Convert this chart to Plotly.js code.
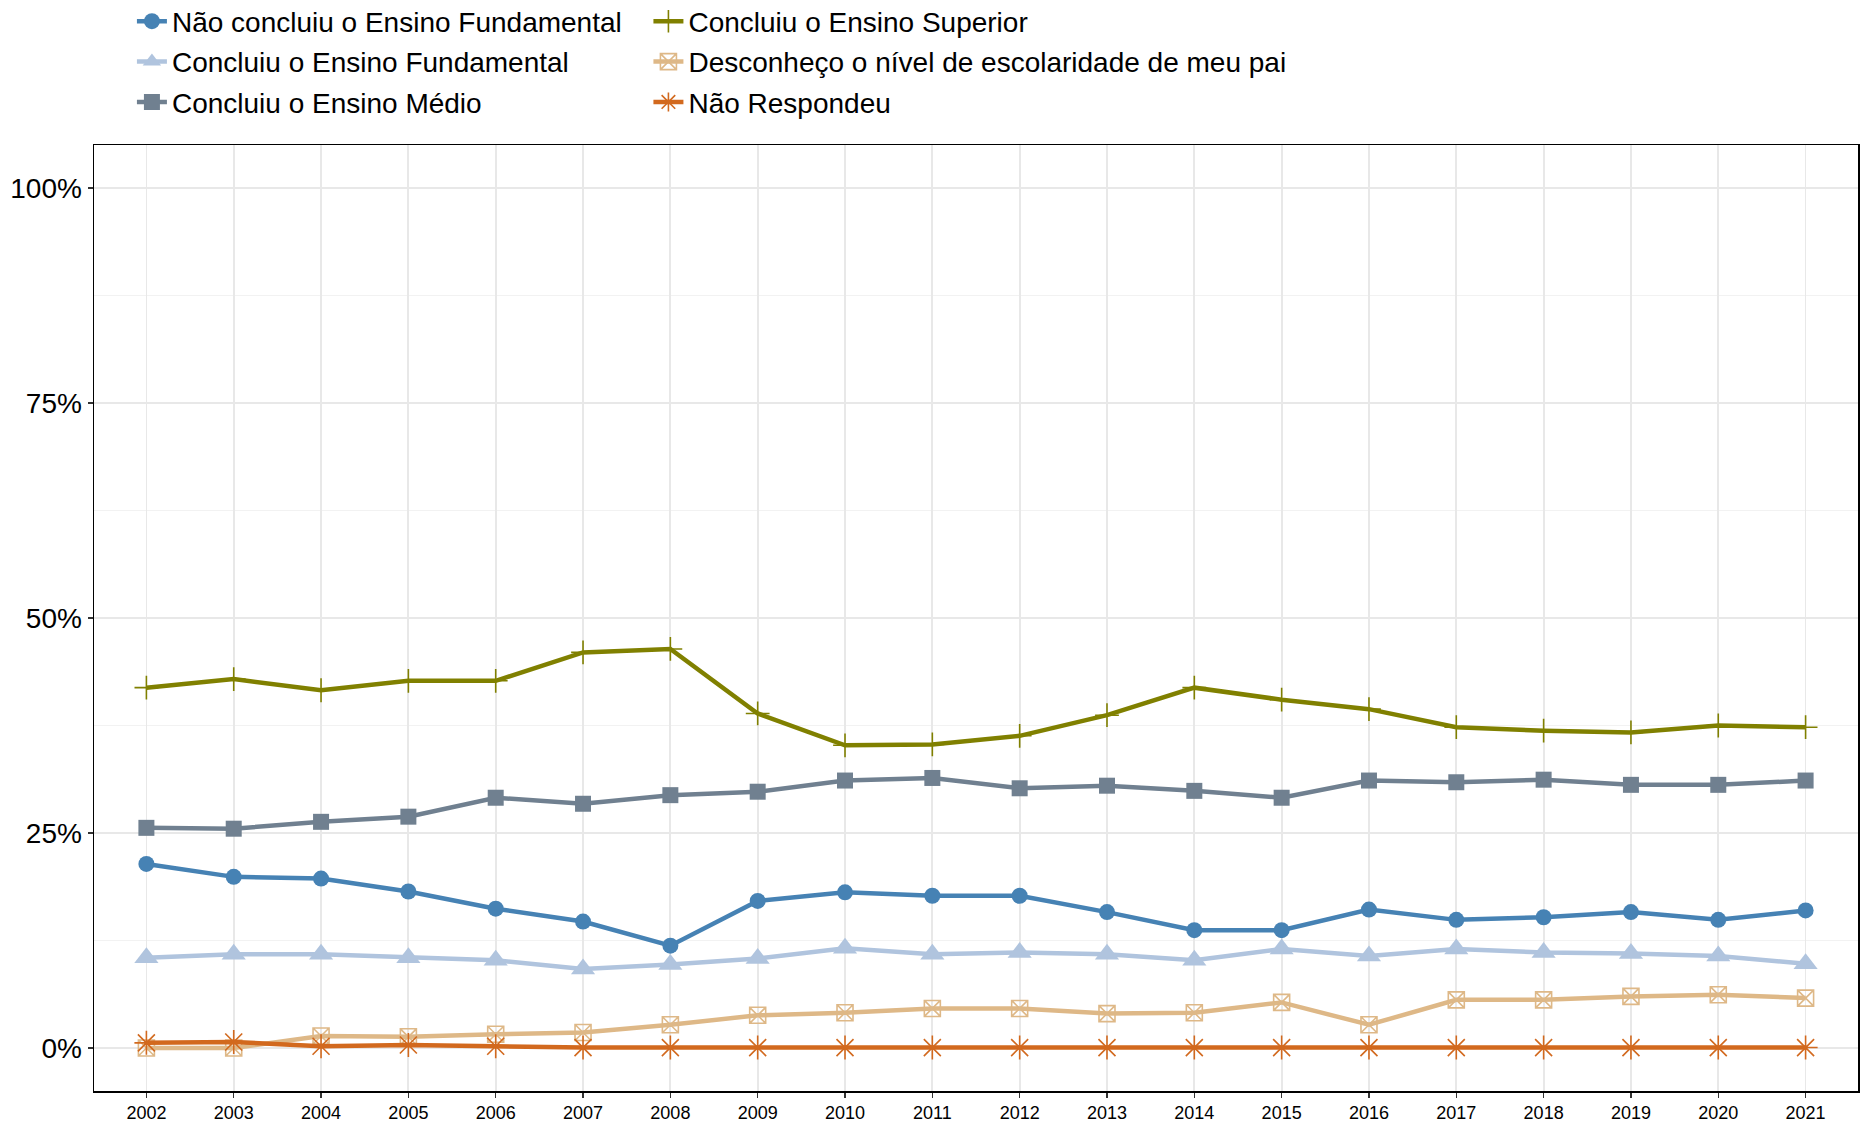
<!DOCTYPE html>
<html>
<head>
<meta charset="utf-8">
<script src="https://cdn.plot.ly/plotly-3.0.1.min.js"></script>
<style>html,body{margin:0;padding:0;background:#fff;}#chart{width:1866px;height:1124px;}</style>
</head>
<body>
<div id="chart"></div>
<script>
const years = [2002,2003,2004,2005,2006,2007,2008,2009,2010,2011,2012,2013,2014,2015,2016,2017,2018,2019,2020,2021];
const naoConcluiuEF = [21.4,19.9,19.7,18.2,16.2,14.7,11.9,17.1,18.1,17.7,17.7,15.8,13.7,13.7,16.1,14.9,15.2,15.8,14.9,16.0];
const concluiuEF = [10.5,10.9,10.9,10.5,10.2,9.2,9.7,10.4,11.6,10.9,11.1,10.9,10.2,11.5,10.7,11.5,11.1,11.0,10.7,9.8];
const concluiuEM = [25.6,25.5,26.3,26.9,29.1,28.4,29.4,29.8,31.1,31.4,30.2,30.5,29.9,29.1,31.1,30.9,31.2,30.6,30.6,31.1];
const concluiuES = [41.9,42.9,41.6,42.7,42.7,46.0,46.4,38.9,35.2,35.3,36.3,38.7,41.9,40.5,39.4,37.3,36.9,36.7,37.5,37.3];
const desconheco = [0.0,0.0,1.4,1.3,1.6,1.8,2.7,3.8,4.1,4.6,4.6,4.0,4.1,5.3,2.7,5.6,5.6,6.0,6.2,5.8];
const naoRespondeu = [0.6,0.7,0.2,0.35,0.2,0.05,0.05,0.05,0.05,0.05,0.05,0.05,0.05,0.05,0.05,0.05,0.05,0.05,0.05,0.05];
const seriesNames = ["Não concluiu o Ensino Fundamental","Concluiu o Ensino Fundamental","Concluiu o Ensino Médio","Concluiu o Ensino Superior","Desconheço o nível de escolaridade de meu pai","Não Respondeu"];
const yTickVals = [0,25,50,75,100];
const yTickText = ["0%","25%","50%","75%","100%"];

const colors = ["#4682B4","#B0C4DE","#708090","#808000","#DEB887","#D2691E"];
const symbols = ["circle","triangle-up","square","cross-thin-open","square-x-open","asterisk-open"];
const sizes = [16,21,16,17,16,20];
const mlw = [0,0,0,1.6,1.6,1.6];
const legendIds = ["legend","legend","legend","legend2","legend2","legend2"];
const allSeries = [naoConcluiuEF,concluiuEF,concluiuEM,concluiuES,desconheco,naoRespondeu];

const traces = allSeries.map((vals,i)=>({
  type:'scatter', mode:'lines+markers', x:years, y:vals, name:seriesNames[i],
  legend: legendIds[i], legendgroup:'g'+i,
  line:{color:colors[i], width:4.5},
  marker:{symbol:symbols[i], size:sizes[i], color:colors[i], line:{color:colors[i], width:mlw[i]}},
  hoverinfo:'skip'
}));

const font = {family:'"Liberation Sans", Arial, sans-serif', color:'#000'};
const legendBase = {
  orientation:'v', xanchor:'left', yanchor:'top', y:1.157,
  font:Object.assign({}, font, {size:28}), bgcolor:'rgba(0,0,0,0)',
  tracegroupgap:1, itemclick:false, itemdoubleclick:false
};

const layout = {
  width:1866, height:1124,
  margin:{l:93.5, r:8, t:145, b:33, pad:0, autoexpand:false},
  paper_bgcolor:'#fff', plot_bgcolor:'#fff',
  font:font,
  showlegend:true,
  legend:Object.assign({}, legendBase, {x:0.0215}),
  legend2:Object.assign({}, legendBase, {x:0.3143}),
  xaxis:{
    range:[2001.4,2021.6], tickvals:years, ticktext:years.map(String),
    tickfont:Object.assign({}, font, {size:18}),
    showgrid:true, gridcolor:'#E8E8E8', gridwidth:1.8,
    zeroline:false, showline:true, linecolor:'#000', linewidth:1.5, mirror:true,
    ticks:'outside', ticklen:5, tickwidth:1.5, tickcolor:'#333'
  },
  yaxis:{
    range:[-5,105], tickvals:yTickVals, ticktext:yTickText,
    tickfont:Object.assign({}, font, {size:28}),
    showgrid:true, gridcolor:'#E8E8E8', gridwidth:1.8,
    minor:{tickvals:[12.5,37.5,62.5,87.5], showgrid:true, gridcolor:'#F2F2F2', gridwidth:1.2, ticks:''},
    zeroline:false, showline:true, linecolor:'#000', linewidth:1.5, mirror:true,
    ticks:'outside', ticklen:5, tickwidth:1.5, tickcolor:'#333'
  }
};

Plotly.newPlot('chart', traces, layout, {displayModeBar:false, staticPlot:true});
</script>
</body>
</html>
